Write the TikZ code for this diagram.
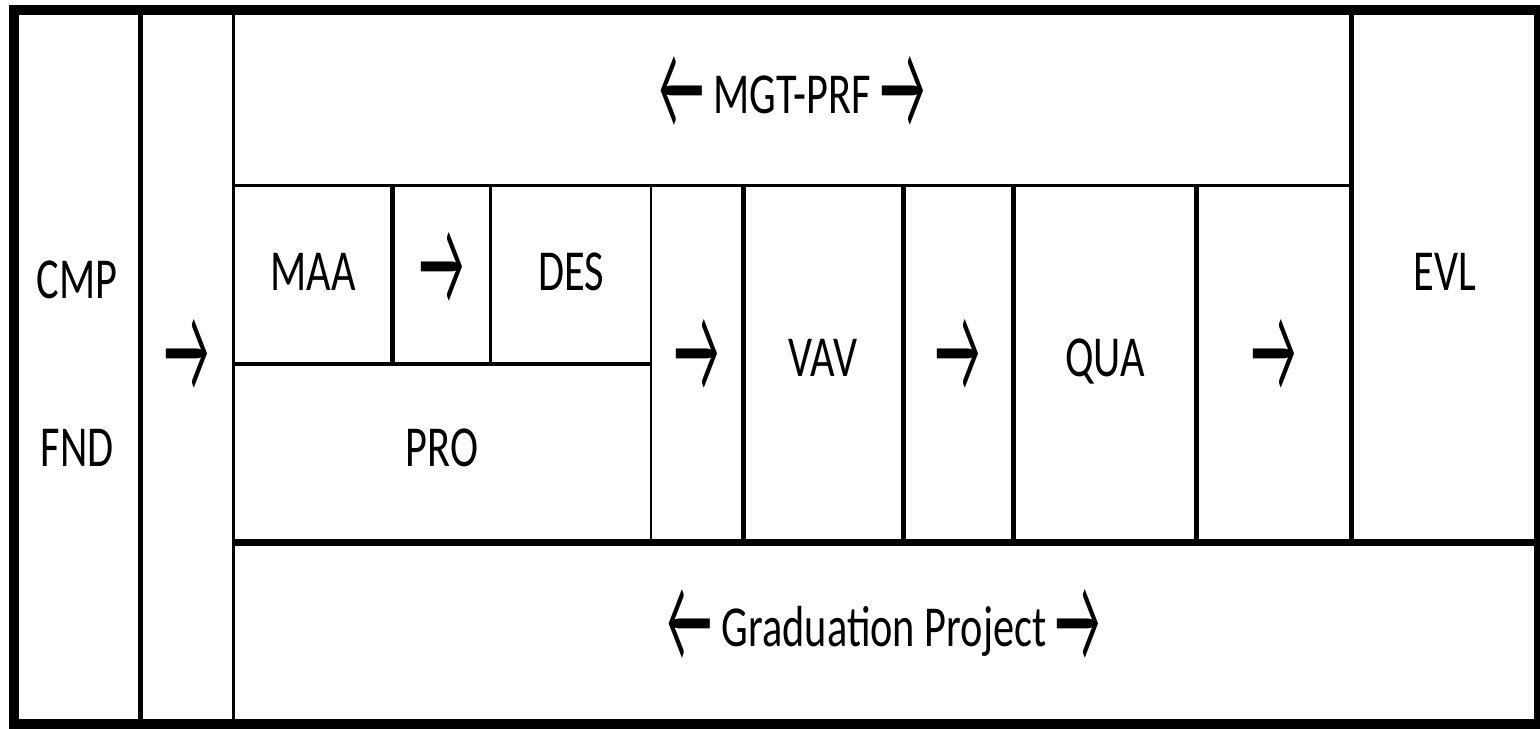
\documentclass[tikz,border=0pt]{standalone}
\usepackage{fontspec}
\setmainfont{Carlito}
\usepackage{graphicx}

\tikzset{
	cell/.style={font=\fontsize{29}{34}\selectfont, text height=18.3pt, text depth=0pt, inner sep=0pt},
}
\newcommand{\narrow}[1]{\scalebox{0.73}[1]{#1}}
\newsavebox{\arrbox}
\newcommand{\bigarr}[1]{\sbox{\arrbox}{\scalebox{0.85}[2.2]{#1}}%
	\raisebox{\dimexpr 10pt-0.5\ht\arrbox+0.5\dp\arrbox\relax}[18.3pt][0pt]{\usebox{\arrbox}}}

\begin{document}
\begin{tikzpicture}[x=0.5pt, y=-0.5pt]
	\useasboundingbox (0,0) rectangle (1540,728);
	\clip (0,0) rectangle (1540,728);
	\def\top{9.5};
	\def\mid{185.5};
	\def\half{364.2};
	\def\low{542.5};
	\def\bot{724};
	
	% frame and long rules
	\draw [line width=5pt] (14,\top) rectangle (1539,\bot);
	\draw [line width=2.5pt] (140.5,\top) -- (140.5,\bot);
	\draw [line width=1.5pt] (233.5,\top) -- (233.5,\bot);
	\draw [line width=2.5pt] (1351.5,\top) -- (1351.5,\low);
	\draw [line width=1.6pt] (233.5,\mid) -- (1351.5,\mid);
	\draw [line width=3.4pt] (233.5,\low) -- (1539,\low);
	
	% inner cells
	\draw [line width=2.2pt] (392.5,\mid) -- (392.5,\half);
	\draw [line width=1.5pt] (490.5,\mid) -- (490.5,\half);
	\draw [line width=1.8pt] (233.5,\half) -- (650.8,\half);
	\draw [line width=1pt] (650.8,\mid) -- (650.8,\low);
	\foreach \x in {743.3, 903.3, 1013.3, 1196.3}
		\draw [line width=2.2pt] (\x,\mid) -- (\x,\low);
	
	% labels
	\node [cell] (mgtprf) at (792,95) {\bigarr{←}\,\narrow{MGT-PRF}\,\bigarr{→}};
	\node [cell] (cmp) at (77,280) {\narrow{CMP}};
	\node [cell] (fnd) at (77,448) {\narrow{FND}};
	\node [cell] (toproj) at (187,358) {\bigarr{→}};
	\node [cell] (maa) at (313,272) {\narrow{MAA}};
	\node [cell] (todes) at (442,271) {\bigarr{→}};
	\node [cell] (des) at (571,272) {\narrow{DES}};
	\node [cell] (pro) at (442,448) {\narrow{PRO}};
	\node [cell] (tovav) at (697,358) {\bigarr{→}};
	\node [cell] (vav) at (823,358) {\narrow{VAV}};
	\node [cell] (toqua) at (958,358) {\bigarr{→}};
	\node [cell] (qua) at (1105,358) {\narrow{QUA}};
	\node [cell] (toevl) at (1274,358) {\bigarr{→}};
	\node [cell] (evl) at (1445,272) {\narrow{EVL}};
	\node [cell] (grad) at (884,628) {\bigarr{←}\,\narrow{Graduation Project}\,\bigarr{→}};
\end{tikzpicture}
\end{document}
